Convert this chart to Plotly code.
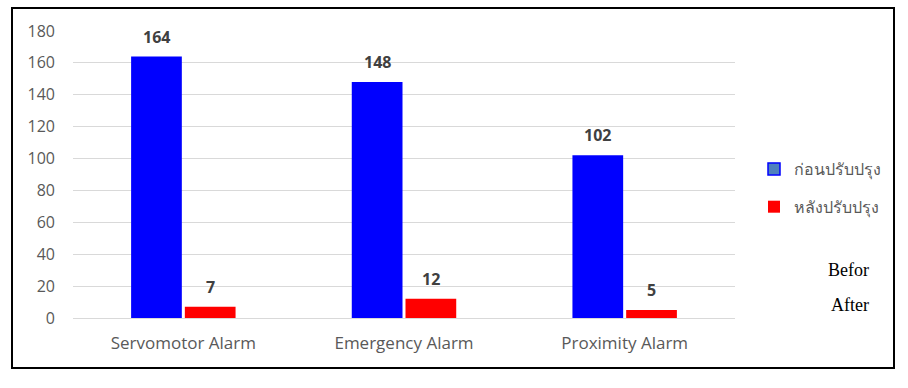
import plotly.graph_objects as go

categories = ["Servomotor Alarm", "Emergency Alarm", "Proximity Alarm"]
before_values = [164, 148, 102]
after_values = [7, 12, 5]
series_names = ["ก่อนปรับปรุง", "หลังปรับปรุง"]
extra_labels = ["Befor", "After"]
y_ticks = [0, 20, 40, 60, 80, 100, 120, 140, 160, 180]

W, H = 908, 388
L, R, T, B = 73, 173, 31, 70
pw, ph = W - L - R, H - T - B

def px_x(x):
    return (x - L) / pw

def px_y(y):
    return (H - B - y) / ph

fig = go.Figure()
fig.add_trace(go.Bar(x=categories, y=before_values, offsetgroup="a",
                     marker=dict(color="#0000FF", line=dict(width=0)),
                     showlegend=False, hoverinfo="y"))
fig.add_trace(go.Bar(x=categories, y=after_values, offsetgroup="b",
                     marker=dict(color="#FF0000", line=dict(width=0)),
                     showlegend=False, hoverinfo="y"))
# legend entries
fig.add_trace(go.Bar(x=[None], y=[None], name=series_names[0], legendgroup="a", offsetgroup="a",
                     marker=dict(color="#4F81BD", line=dict(color="#0000FF", width=1.5))))
fig.add_trace(go.Bar(x=[None], y=[None], name=series_names[1], legendgroup="b", offsetgroup="b",
                     marker=dict(color="#FF0000", line=dict(width=0))))

label_font = dict(family="Open Sans, Lato, sans-serif", size=16, color="#404040")
for vals, shift in ((before_values, -27), (after_values, 27)):
    for c, v in zip(categories, vals):
        fig.add_annotation(x=c, y=v, text=f"<b>{v}</b>", showarrow=False, xshift=shift, yshift=20,
                           font=label_font)

for i, t in enumerate(extra_labels):
    fig.add_annotation(xref="paper", yref="paper", x=px_x(871), y=px_y(270 + i * 35), xanchor="right",
                       yanchor="middle", text=t, showarrow=False,
                       font=dict(family="Liberation Serif, Times New Roman, serif", size=18, color="black"))

fig.add_shape(type="rect", xref="paper", yref="paper", x0=px_x(12), x1=px_x(894), y0=px_y(368), y1=px_y(8),
              line=dict(color="black", width=2), fillcolor="rgba(0,0,0,0)", layer="above")

fig.update_layout(
    width=W, height=H, margin=dict(l=L, r=R, t=T, b=B),
    paper_bgcolor="white", plot_bgcolor="white",
    barmode="group", bargap=0.513, bargroupgap=0.056,
    font=dict(family="Open Sans, Lato, sans-serif", color="#595959", size=16),
    xaxis=dict(showline=True, linecolor="#D9D9D9", linewidth=1, ticks="", ticklabelstandoff=10,
               tickfont=dict(size=17, color="#595959")),
    yaxis=dict(range=[0, 180], tickvals=y_ticks, showgrid=True, gridcolor="#D9D9D9", zeroline=False,
               showline=False, ticks="", ticklabelstandoff=17, tickfont=dict(size=16, color="#595959")),
    legend=dict(x=px_x(754), y=px_y(152), xanchor="left", yanchor="top", traceorder="grouped",
                tracegroupgap=14, font=dict(size=16, color="#595959"), itemwidth=30,
                bgcolor="rgba(0,0,0,0)"),
    showlegend=True,
)

fig.write_html("out.html", config={"displayModeBar": False},
               post_script="document.body.style.margin='0';")
